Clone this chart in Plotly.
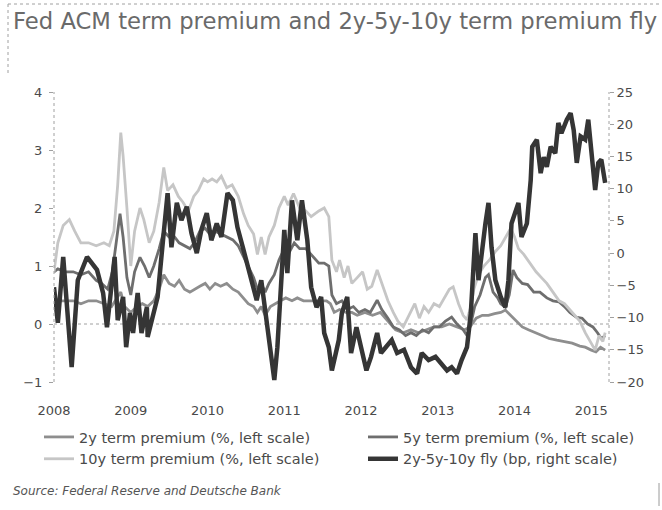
import plotly.graph_objects as go

# ---------------- data (decimal years) ----------------
t_2y = [2008.00, 2008.05, 2008.15, 2008.25, 2008.35, 2008.45, 2008.55, 2008.65, 2008.75, 2008.82,
        2008.87, 2008.92, 2009.00, 2009.08, 2009.15, 2009.22, 2009.30, 2009.37, 2009.43, 2009.50,
        2009.57, 2009.63, 2009.70, 2009.77, 2009.83, 2009.90, 2009.97, 2010.03, 2010.10, 2010.17,
        2010.25, 2010.33, 2010.40, 2010.47, 2010.53, 2010.60, 2010.65, 2010.70, 2010.75, 2010.82,
        2010.88, 2010.95, 2011.02, 2011.10, 2011.17, 2011.25, 2011.35, 2011.45, 2011.55, 2011.60,
        2011.65, 2011.72, 2011.80, 2011.88, 2011.95, 2012.05, 2012.15, 2012.25, 2012.35, 2012.45,
        2012.55, 2012.65, 2012.75, 2012.85, 2012.95, 2013.05, 2013.15, 2013.25, 2013.35, 2013.42,
        2013.50, 2013.58, 2013.66, 2013.74, 2013.82, 2013.88, 2013.95, 2014.02, 2014.10, 2014.18,
        2014.27, 2014.35, 2014.45, 2014.55, 2014.65, 2014.75, 2014.85, 2014.92, 2015.00, 2015.06,
        2015.12, 2015.18]
tp_2y = [0.45, 0.40, 0.40, 0.40, 0.35, 0.40, 0.40, 0.35, 0.30, 0.45,
         0.55, 0.30, 0.20, 0.30, 0.35, 0.30, 0.40, 0.60, 0.85, 0.70,
         0.65, 0.75, 0.60, 0.55, 0.60, 0.65, 0.70, 0.60, 0.70, 0.65,
         0.70, 0.60, 0.55, 0.45, 0.35, 0.30, 0.20, 0.30, 0.15, 0.30,
         0.35, 0.40, 0.45, 0.40, 0.45, 0.40, 0.40, 0.40, 0.40, 0.35,
         0.20, 0.25, 0.20, 0.20, 0.15, 0.20, 0.15, 0.20, 0.05, -0.10,
         -0.15, -0.10, -0.15, -0.10, -0.05, -0.05, 0.00, -0.05, -0.10, -0.05,
         0.10, 0.15, 0.15, 0.18, 0.20, 0.24, 0.15, 0.05, -0.05, -0.10,
         -0.15, -0.20, -0.25, -0.28, -0.30, -0.33, -0.38, -0.40, -0.45, -0.48,
         -0.40, -0.45]

t_5y = [2008.00, 2008.05, 2008.15, 2008.25, 2008.35, 2008.45, 2008.55, 2008.62, 2008.70, 2008.76,
        2008.82, 2008.86, 2008.90, 2008.95, 2009.00, 2009.05, 2009.12, 2009.18, 2009.24, 2009.30,
        2009.37, 2009.43, 2009.50, 2009.57, 2009.63, 2009.70, 2009.77, 2009.83, 2009.90, 2009.97,
        2010.03, 2010.10, 2010.17, 2010.25, 2010.33, 2010.40, 2010.47, 2010.53, 2010.60, 2010.65,
        2010.70, 2010.75, 2010.80, 2010.87, 2010.93, 2011.00, 2011.07, 2011.13, 2011.20, 2011.28,
        2011.35, 2011.45, 2011.52, 2011.58, 2011.62, 2011.68, 2011.75, 2011.82, 2011.90, 2011.97,
        2012.05, 2012.12, 2012.21, 2012.27, 2012.35, 2012.42, 2012.50, 2012.58, 2012.65, 2012.72,
        2012.80, 2012.88, 2012.95, 2013.02, 2013.10, 2013.18, 2013.25, 2013.33, 2013.38, 2013.43,
        2013.48, 2013.55, 2013.62, 2013.66, 2013.72, 2013.78, 2013.82, 2013.88, 2013.93, 2013.98,
        2014.03, 2014.10, 2014.17, 2014.25, 2014.33, 2014.42, 2014.50, 2014.58, 2014.65, 2014.72,
        2014.80, 2014.88, 2014.95, 2015.02, 2015.08, 2015.13, 2015.18]
tp_5y = [0.90, 0.95, 0.90, 0.90, 0.85, 0.90, 0.75, 0.70, 0.60, 0.90,
         1.50, 1.90, 1.50, 0.80, 0.50, 0.90, 1.15, 1.00, 0.80, 1.00,
         1.30, 1.60, 1.50, 1.50, 1.40, 1.35, 1.30, 1.40, 1.60, 1.65,
         1.55, 1.60, 1.55, 1.50, 1.45, 1.35, 1.15, 1.00, 0.80, 0.60,
         0.70, 0.55, 0.70, 0.85, 1.10, 1.30, 1.25, 1.40, 1.30, 1.30,
         1.20, 1.05, 1.05, 1.00, 0.50, 0.35, 0.40, 0.25, 0.30, 0.20,
         0.25, 0.20, 0.41, 0.25, 0.10, -0.05, -0.10, -0.20, -0.15, -0.20,
         -0.10, -0.15, -0.05, -0.05, 0.05, 0.12, 0.00, -0.10, -0.20, 0.00,
         0.30, 0.50, 0.80, 0.85, 0.55, 0.45, 0.35, 0.29, 0.50, 0.93,
         0.80, 0.70, 0.68, 0.55, 0.55, 0.45, 0.40, 0.38, 0.30, 0.20,
         0.12, 0.10, 0.00, -0.05, -0.15, -0.25, -0.20]

t_10y = [2008.00, 2008.05, 2008.12, 2008.20, 2008.27, 2008.35, 2008.45, 2008.55, 2008.65, 2008.72,
         2008.78, 2008.83, 2008.87, 2008.90, 2008.95, 2009.00, 2009.05, 2009.12, 2009.17, 2009.24,
         2009.30, 2009.37, 2009.43, 2009.48, 2009.55, 2009.62, 2009.68, 2009.75, 2009.82, 2009.88,
         2009.95, 2010.00, 2010.06, 2010.12, 2010.18, 2010.25, 2010.32, 2010.40, 2010.47, 2010.53,
         2010.60, 2010.65, 2010.70, 2010.75, 2010.80, 2010.87, 2010.93, 2011.00, 2011.05, 2011.12,
         2011.20, 2011.28, 2011.35, 2011.45, 2011.52, 2011.58, 2011.62, 2011.68, 2011.72, 2011.78,
         2011.83, 2011.88, 2011.95, 2012.02, 2012.08, 2012.14, 2012.21, 2012.27, 2012.35, 2012.42,
         2012.48, 2012.55, 2012.62, 2012.70, 2012.76, 2012.82, 2012.88, 2012.95, 2013.02, 2013.08,
         2013.15, 2013.20, 2013.27, 2013.33, 2013.38, 2013.43, 2013.47, 2013.53, 2013.60, 2013.67,
         2013.75, 2013.82, 2013.90, 2013.95, 2014.00, 2014.05, 2014.12, 2014.20, 2014.28, 2014.35,
         2014.42, 2014.50, 2014.58, 2014.65, 2014.72, 2014.78, 2014.85, 2014.92, 2014.98, 2015.05,
         2015.10, 2015.15, 2015.18]
tp_10y = [0.90, 1.40, 1.70, 1.80, 1.60, 1.40, 1.40, 1.35, 1.40, 1.35,
          1.60, 2.40, 3.30, 2.90, 2.00, 1.00, 1.60, 2.00, 1.80, 1.40,
          1.60, 2.10, 2.70, 2.30, 2.40, 2.20, 2.10, 1.95, 2.20, 2.30,
          2.50, 2.45, 2.50, 2.45, 2.55, 2.35, 2.40, 2.20, 1.90, 1.70,
          1.55, 1.20, 1.50, 1.20, 1.50, 1.70, 2.00, 2.20, 2.05, 2.25,
          2.00, 1.95, 1.85, 1.95, 2.00, 1.85, 1.10, 0.90, 1.10, 0.80,
          1.00, 0.70, 0.80, 0.90, 0.60, 0.65, 0.93, 0.70, 0.40, 0.20,
          0.05, -0.05, 0.15, 0.35, 0.10, 0.30, 0.20, 0.35, 0.30, 0.45,
          0.60, 0.64, 0.35, 0.15, 0.07, 0.30, 0.60, 0.85, 1.00, 1.10,
          1.25, 1.35, 1.55, 1.65, 1.50, 1.30, 1.20, 1.05, 0.90, 0.80,
          0.70, 0.55, 0.40, 0.35, 0.25, 0.15, 0.05, -0.15, -0.30, -0.45,
          -0.20, -0.30, -0.15]

t_fly = [2008.00, 2008.05, 2008.12, 2008.23, 2008.31, 2008.43, 2008.56, 2008.64, 2008.69, 2008.75,
         2008.79, 2008.83, 2008.90, 2008.94, 2008.99, 2009.03, 2009.09, 2009.14, 2009.21, 2009.22,
         2009.29, 2009.35, 2009.42, 2009.48, 2009.53, 2009.60, 2009.66, 2009.73, 2009.79, 2009.86,
         2009.92, 2009.99, 2010.05, 2010.12, 2010.18, 2010.26, 2010.33, 2010.39, 2010.46, 2010.55,
         2010.64, 2010.70, 2010.77, 2010.83, 2010.87, 2010.91, 2010.96, 2011.00, 2011.04, 2011.10,
         2011.17, 2011.23, 2011.30, 2011.35, 2011.42, 2011.48, 2011.52, 2011.58, 2011.62, 2011.71,
         2011.75, 2011.82, 2011.87, 2011.94, 2012.00, 2012.07, 2012.13, 2012.21, 2012.26, 2012.33,
         2012.40, 2012.47, 2012.56, 2012.65, 2012.73, 2012.79, 2012.88, 2012.97, 2013.05, 2013.12,
         2013.18, 2013.25, 2013.31, 2013.38, 2013.43, 2013.46, 2013.49, 2013.53, 2013.57, 2013.62,
         2013.66, 2013.70, 2013.75, 2013.82, 2013.88, 2013.92, 2013.96, 2014.01, 2014.05, 2014.09,
         2014.16, 2014.21, 2014.23, 2014.29, 2014.34, 2014.38, 2014.42, 2014.47, 2014.53, 2014.57,
         2014.61, 2014.68, 2014.73, 2014.77, 2014.81, 2014.86, 2014.92, 2014.96, 2015.00, 2015.05,
         2015.09, 2015.13, 2015.18]
fly_bp = [-5.3, -10.8, -0.6, -17.7, -4.2, -0.6, -2.6, -6.2, -11.5, -4.2,
          -0.6, -10.4, -6.8, -14.6, -9.3, -12.4, -6.2, -12.4, -8.4, -13.0,
          -9.3, -6.8, 2.0, 9.3, 0.9, 7.8, 5.1, 7.2, 3.1, 0.0,
          3.6, 6.2, 2.0, 4.6, 2.5, 9.3, 8.2, 4.0, 0.9, -3.1,
          -7.3, -4.2, -10.4, -16.1, -19.7, -14.6, -5.3, 3.6, -3.1, 8.2,
          2.0, 8.2, 2.0, -5.3, -8.4, -6.8, -12.4, -14.6, -18.2, -13.5,
          -9.3, -6.8, -15.5, -11.5, -14.6, -18.2, -16.1, -12.4, -15.5, -14.6,
          -13.5, -15.5, -15.0, -17.7, -18.7, -15.5, -16.6, -16.1, -17.2, -18.2,
          -17.7, -18.7, -16.6, -14.6, -9.3, -2.1, 3.1, -4.2, 0.0, 4.6,
          7.8, 0.9, -4.2, -6.8, -8.4, -4.2, 4.6, 6.2, 7.8, 2.5,
          4.6, 11.3, 16.5, 17.6, 12.4, 14.9, 13.4, 16.5, 15.5, 20.2,
          18.6, 20.7, 21.7, 19.1, 14.0, 18.1, 17.6, 20.7, 15.5, 9.8,
          14.0, 14.5, 10.9]

years = [2008, 2009, 2010, 2011, 2012, 2013, 2014, 2015]
year_labels = [str(y) for y in years]
left_ticks = [-1, 0, 1, 2, 3, 4]
right_ticks = [-20, -15, -10, -5, 0, 5, 10, 15, 20, 25]

# ---------------- figure ----------------
W, H = 662, 510
L, R, T, B = 54, 53, 92, 128
PW, PH = W - L - R, H - T - B


def px(x):
    return (x - L) / PW


def py(y):
    return (H - B - y) / PH


FONT = "DejaVu Sans"
TXT = "#4a4a4a"

fig = go.Figure()
fig.add_trace(go.Scatter(x=t_2y, y=tp_2y, mode="lines", name="2y term premium (%, left scale)",
                         line=dict(color="#8e8e8e", width=2.8), legend="legend"))
fig.add_trace(go.Scatter(x=t_5y, y=tp_5y, mode="lines", name="5y term premium (%, left scale)",
                         line=dict(color="#6e6e6e", width=2.8), legend="legend2"))
fig.add_trace(go.Scatter(x=t_10y, y=tp_10y, mode="lines", name="10y term premium (%, left scale)",
                         line=dict(color="#c6c6c6", width=2.8), legend="legend"))
fig.add_trace(go.Scatter(x=t_fly, y=fly_bp, mode="lines", name="2y-5y-10y fly (bp, right scale)",
                         line=dict(color="#353535", width=4.5), yaxis="y2", legend="legend2"))

dot = dict(color="#a0a0a0", width=1, dash="dot")
shapes = [
    dict(type="line", xref="paper", yref="y", x0=0, x1=1, y0=0, y1=0, line=dot, layer="below"),
    dict(type="line", xref="paper", yref="paper", x0=0, x1=0, y0=0, y1=1, line=dot),
    dict(type="line", xref="paper", yref="paper", x0=1, x1=1, y0=0, y1=1, line=dot),
    dict(type="line", xref="paper", yref="paper", x0=px(8), x1=px(662), y0=py(4), y1=py(4), line=dot),
    dict(type="line", xref="paper", yref="paper", x0=px(8), x1=px(8), y0=py(4), y1=py(76), line=dot),
    dict(type="line", xref="paper", yref="paper", x0=px(659), x1=px(659), y0=py(483), y1=py(506),
         line=dict(color="#9a9a9a", width=1)),
]

annotations = [
    dict(text="Fed ACM term premium and 2y-5y-10y term premium fly", xref="paper", yref="paper",
         x=px(11), y=py(21), xanchor="left", yanchor="middle", showarrow=False,
         font=dict(family=FONT, size=22.7, color="#6a6a6a")),
    dict(text="<i>Source: Federal Reserve and Deutsche Bank</i>", xref="paper", yref="paper",
         x=px(11), y=py(491), xanchor="left", yanchor="middle", showarrow=False,
         font=dict(family=FONT, size=12, color="#555555")),
]

fig.update_layout(
    width=W, height=H,
    margin=dict(l=L, r=R, t=T, b=B, autoexpand=False),
    paper_bgcolor="white", plot_bgcolor="white",
    font=dict(family=FONT, size=13, color=TXT),
    showlegend=True,
    xaxis=dict(range=[2008, 2015.23], tickvals=years, ticktext=year_labels,
               showgrid=False, zeroline=False, showline=False,
               ticks="outside", ticklen=16, tickcolor="rgba(0,0,0,0)",
               tickfont=dict(family=FONT, size=13, color=TXT)),
    yaxis=dict(range=[-1, 4], tickvals=left_ticks, showgrid=False, zeroline=False, showline=False,
               ticks="outside", ticklen=4, tickcolor="#a0a0a0", ticklabelstandoff=4,
               tickfont=dict(family=FONT, size=13, color=TXT)),
    yaxis2=dict(range=[-20, 25], tickvals=right_ticks, overlaying="y", side="right",
                showgrid=False, zeroline=False, showline=False,
                ticks="outside", ticklen=4, tickcolor="#a0a0a0",
                tickfont=dict(family=FONT, size=13, color=TXT)),
    legend=dict(x=px(39), y=py(421), xanchor="left", yanchor="top", orientation="v",
                bgcolor="rgba(0,0,0,0)", borderwidth=0, tracegroupgap=0,
                font=dict(family=FONT, size=14.5, color=TXT)),
    legend2=dict(x=px(363), y=py(421), xanchor="left", yanchor="top", orientation="v",
                 bgcolor="rgba(0,0,0,0)", borderwidth=0, tracegroupgap=0,
                 font=dict(family=FONT, size=14.5, color=TXT)),
    shapes=shapes,
    annotations=annotations,
)

fig.write_html("out.html", config={"displayModeBar": False},
               post_script="document.body.style.margin='0';")
